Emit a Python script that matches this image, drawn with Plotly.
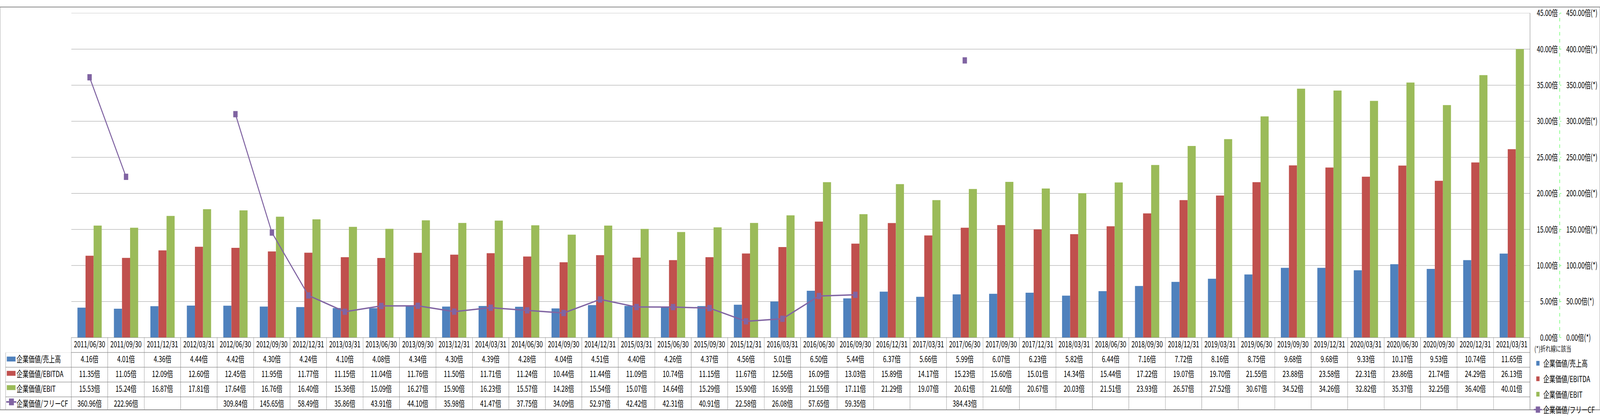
import plotly.graph_objects as go

W, H = 5876, 1071

dates = ['2011/06/30', '2011/09/30', '2011/12/31', '2012/03/31', '2012/06/30', '2012/09/30',
         '2012/12/31', '2013/03/31', '2013/06/30', '2013/09/30', '2013/12/31', '2014/03/31',
         '2014/06/30', '2014/09/30', '2014/12/31', '2015/03/31', '2015/06/30', '2015/09/30',
         '2015/12/31', '2016/03/31', '2016/06/30', '2016/09/30', '2016/12/31', '2017/03/31',
         '2017/06/30', '2017/09/30', '2017/12/31', '2018/03/31', '2018/06/30', '2018/09/30',
         '2018/12/31', '2019/03/31', '2019/06/30', '2019/09/30', '2019/12/31', '2020/03/31',
         '2020/06/30', '2020/09/30', '2020/12/31', '2021/03/31']

ev_sales = [4.16, 4.01, 4.36, 4.44, 4.42, 4.30, 4.24, 4.10, 4.08, 4.34,
            4.30, 4.39, 4.28, 4.04, 4.51, 4.40, 4.26, 4.37, 4.56, 5.01,
            6.50, 5.44, 6.37, 5.66, 5.99, 6.07, 6.23, 5.82, 6.44, 7.16,
            7.72, 8.16, 8.75, 9.68, 9.68, 9.33, 10.17, 9.53, 10.74, 11.65]

ev_ebitda = [11.35, 11.05, 12.09, 12.60, 12.45, 11.95, 11.77, 11.15, 11.04, 11.76,
             11.50, 11.71, 11.24, 10.44, 11.44, 11.09, 10.74, 11.15, 11.67, 12.56,
             16.09, 13.03, 15.89, 14.17, 15.23, 15.60, 15.01, 14.34, 15.44, 17.22,
             19.07, 19.70, 21.55, 23.88, 23.58, 22.31, 23.86, 21.74, 24.29, 26.13]

ev_ebit = [15.53, 15.24, 16.87, 17.81, 17.64, 16.76, 16.40, 15.36, 15.09, 16.27,
           15.90, 16.23, 15.57, 14.28, 15.54, 15.07, 14.64, 15.29, 15.90, 16.95,
           21.55, 17.11, 21.29, 19.07, 20.61, 21.60, 20.67, 20.03, 21.51, 23.93,
           26.57, 27.52, 30.67, 34.52, 34.26, 32.82, 35.37, 32.25, 36.40, 40.01]

ev_fcf = [360.96, 222.96, None, None, 309.84, 145.65, 58.49, 35.86, 43.91, 44.10,
          35.98, 41.47, 37.75, 34.09, 52.97, 42.42, 42.31, 40.91, 22.58, 26.08,
          57.65, 59.35, None, None, 384.43, None, None, None, None, None,
          None, None, None, None, None, None, None, None, None, None]

names = ['企業価値/売上高', '企業価値/EBITDA', '企業価値/EBIT', '企業価値/フリーCF']
colors = ['#4F81BD', '#C0504D', '#9BBB59', '#8064A2']

left_max, left_step = 45, 5
right_max, right_step = 450, 50

FONT = 'Noto Sans CJK JP, Noto Sans, sans-serif'
GRID = '#888888'


def px(x):
    return x / W


def py(y):
    return (H - y) / H


plot_x0, plot_x1 = 262, 5619
plot_top, plot_bot = 16, 879
table_left, table_bot = 21, 1070
row_h = 38
axis_x = 5728

fig = go.Figure()

for name, vals, col in zip(names[:3], [ev_sales, ev_ebitda, ev_ebit], colors[:3]):
    fig.add_trace(go.Bar(
        x=dates, y=vals, name=name, marker=dict(color=col, line=dict(width=0)),
        legendgroup=name, yaxis='y', xaxis='x'
    ))

fig.add_trace(go.Scatter(
    x=dates, y=ev_fcf, name=names[3], mode='lines+markers',
    line=dict(color=colors[3], width=3.5),
    marker=dict(symbol='square', size=16, color=colors[3]),
    connectgaps=False, legendgroup=names[3], yaxis='y2', xaxis='x'
))


def fmt(v):
    return '' if v is None else f'{v:.2f}倍'


indent = '\u3000\u00A0\u00A0'
cell_values = [[indent + n for n in names]] + [[fmt(a), fmt(b), fmt(c), fmt(d)]
                                              for a, b, c, d in zip(ev_sales, ev_ebitda, ev_ebit, ev_fcf)]

fig.add_trace(go.Table(
    domain=dict(x=[px(table_left), px(plot_x1)], y=[py(table_bot), py(plot_bot)]),
    columnwidth=[plot_x0 - table_left] + [134] * len(dates),
    header=dict(
        values=[''] + dates,
        height=row_h,
        align=['left'] + ['center'] * len(dates),
        fill=dict(color='white'),
        line=dict(color=['white'] + [GRID] * len(dates), width=1),
        font=dict(family=FONT, size=22, color='black'),
    ),
    cells=dict(
        values=cell_values,
        height=row_h,
        align=['left'] + ['center'] * len(dates),
        fill=dict(color='white'),
        line=dict(color=GRID, width=1),
        font=dict(family=FONT, size=22, color='black'),
    ),
))

left_ticks = list(range(0, left_max + 1, left_step))
right_ticks = list(range(0, right_max + 1, right_step))

fig.update_layout(
    width=W, height=H,
    margin=dict(l=0, r=0, t=0, b=0),
    paper_bgcolor='white', plot_bgcolor='white',
    font=dict(family=FONT, size=22, color='black'),
    barmode='group', bargap=0.335, bargroupgap=0,
    xaxis=dict(
        domain=[px(plot_x0), px(plot_x1)], anchor='y', type='category',
        range=[-0.5, len(dates) - 0.5], autorange=False,
        showticklabels=False, showgrid=False, ticks='', showline=False, zeroline=False,
    ),
    yaxis=dict(
        domain=[py(plot_bot), py(plot_top)], range=[0, left_max * 1.0002], autorange=False,
        tickmode='array', tickvals=left_ticks, ticktext=[f'{v:.2f}倍' for v in left_ticks],
        side='right', anchor='free', position=px(axis_x),
        ticklabelposition='inside', ticklabeloverflow='allow',
        ticks='', showgrid=True, gridcolor=GRID, gridwidth=1,
        zeroline=False, showline=False, ticklabelstandoff=4,
        tickfont=dict(family=FONT, size=22, color='black'),
    ),
    yaxis2=dict(
        range=[0, right_max * 1.0002], autorange=False,
        tickmode='array', tickvals=right_ticks, ticktext=[f'{v:.2f}倍(*)' for v in right_ticks],
        overlaying='y', side='right', anchor='free', position=px(axis_x),
        ticklabeloverflow='allow',
        showgrid=False, zeroline=False, showline=False,
        ticks='outside', ticklen=5, tickcolor='#00FF00', tickwidth=1, ticklabelstandoff=14,
        tickfont=dict(family=FONT, size=22, color='black'),
    ),
    legend=dict(
        x=px(5628), y=py(926), xanchor='left', yanchor='top',
        traceorder='grouped', tracegroupgap=8, bgcolor='rgba(0,0,0,0)',
        font=dict(family=FONT, size=22, color='black'), itemwidth=30,
    ),
    showlegend=True,
)

# dashed value-axis line
fig.add_shape(type='line', xref='paper', yref='y', x0=px(axis_x), x1=px(axis_x), y0=0, y1=left_max,
              line=dict(color='#00FF00', width=1, dash='dash'))
# plot-area top edge and right border continuing through the table
fig.add_shape(type='line', xref='x domain', yref='y', x0=0, x1=1, y0=left_max, y1=left_max,
              line=dict(color=GRID, width=1))
fig.add_shape(type='line', xref='x domain', yref='paper', x0=1, x1=1, y0=py(table_bot), y1=py(plot_top),
              line=dict(color=GRID, width=1.5))
# outer chart border
fig.add_shape(type='rect', xref='paper', yref='paper', x0=0, x1=1, y0=0, y1=1,
              line=dict(color=GRID, width=2), fillcolor='rgba(0,0,0,0)', layer='below')

# legend keys inside the data-table label column
for i, col in enumerate(colors):
    cy = plot_bot + row_h * (i + 1.5)
    if i < 3:
        fig.add_shape(type='rect', xref='paper', yref='paper',
                      x0=px(25), x1=px(57), y0=py(cy + 6.5), y1=py(cy - 6.5),
                      line=dict(width=0), fillcolor=col, layer='above')
    else:
        fig.add_shape(type='line', xref='paper', yref='paper',
                      x0=px(23), x1=px(60), y0=py(cy), y1=py(cy),
                      line=dict(color=col, width=4), layer='above')
        fig.add_shape(type='rect', xref='paper', yref='paper',
                      x0=px(33), x1=px(51), y0=py(cy + 9), y1=py(cy - 9),
                      line=dict(width=0), fillcolor=col, layer='above')

fig.add_annotation(text='(*)折れ線に該当', xref='paper', yref='paper', x=px(5633), y=py(908),
                   xanchor='left', yanchor='middle', showarrow=False,
                   font=dict(family=FONT, size=19, color='#222222'))

# fit the fixed-size figure into the browser window width
fit_js = (
    "var gd = document.getElementById('{plot_id}');"
    "document.documentElement.style.overflow = 'hidden';"
    "document.body.style.margin = '0';"
    "document.body.style.overflow = 'hidden';"
    "gd.style.width = '" + str(W) + "px'; gd.style.height = '" + str(H) + "px';"
    "var s = window.innerWidth / " + str(W) + ";"
    "if (s < 1) { gd.style.transformOrigin = '0 0'; gd.style.transform = 'scaleX(' + s + ')'; }"
)

fig.write_html('out.html', post_script=fit_js, config={'displayModeBar': False})
